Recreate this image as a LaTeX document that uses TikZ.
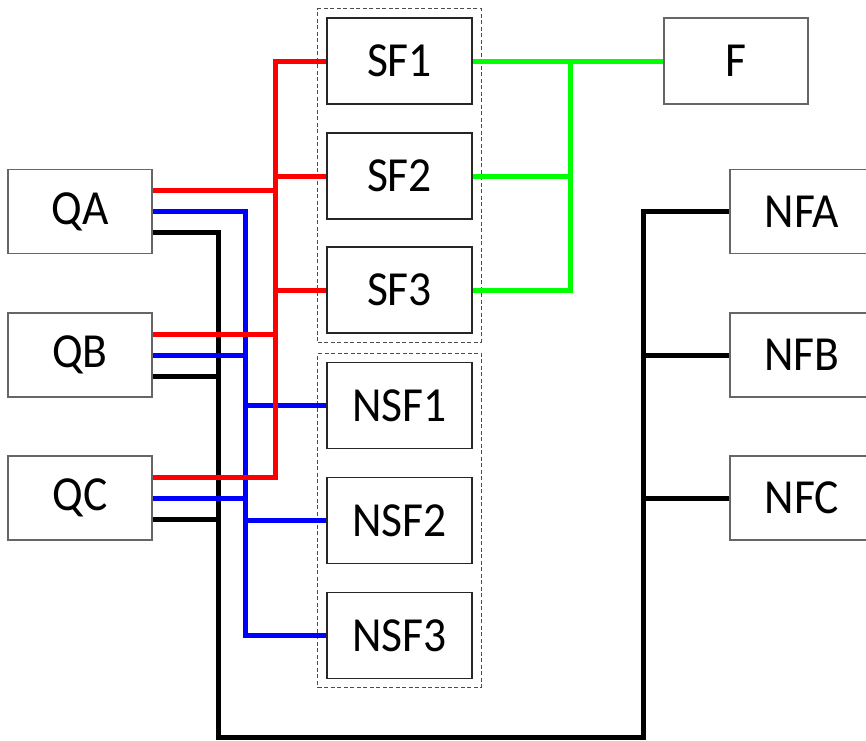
\documentclass[tikz,border=0pt]{standalone}
\usepackage{fontspec}
\setmainfont[FakeStretch=0.93]{Carlito}
\usetikzlibrary{fit}

\begin{document}
\begin{tikzpicture}[x=1pt, y=-1pt,
    box/.style={draw=black!60, line width=1.2pt, minimum width=144pt, minimum height=84pt, inner sep=0pt, font=\fontsize{49}{52}\selectfont},
    sfbox/.style={box, draw=black!85, minimum width=145pt, minimum height=86pt},
    group/.style={draw=black!70, dash pattern=on 4pt off 2.5pt, line width=0.9pt, inner sep=8.5pt},
    wire/.style={line width=5pt}]
    \useasboundingbox (0,0) rectangle (866,740);

    % Sources
    \node[box] (QA) at (80,211.5) {QA};
    \node[box] (QB) at (80,355) {QB};
    \node[box] (QC) at (80,498) {QC};

    % Filter groups
    \node[sfbox] (SF1) at (399.5,61) {SF1};
    \node[sfbox] (SF2) at (399.5,176) {SF2};
    \node[sfbox] (SF3) at (399.5,290) {SF3};
    \node[sfbox] (NSF1) at (399.5,405.5) {NSF1};
    \node[sfbox] (NSF2) at (399.5,520.5) {NSF2};
    \node[sfbox] (NSF3) at (399.5,635.5) {NSF3};
    \node[group, fit=(SF1)(SF3)] (sfgroup) {};
    \node[group, fit=(NSF1)(NSF3)] (nsfgroup) {};

    % Sinks
    \node[box, minimum height=86pt] (F) at (736,61) {F};
    \node[box] (NFA) at (802,211.5) {NFA};
    \node[box] (NFB) at (802,355) {NFB};
    \node[box] (NFC) at (802,498) {NFC};

    % Bus positions
    \coordinate (rbus) at (275,0);
    \coordinate (bbus) at (245,0);
    \coordinate (gbus) at (570,0);
    \coordinate (kbus) at (218,737);
    \coordinate (kend) at (643,737);

    % Ports on the sources
    \foreach \q in {QA,QB,QC} {
        \coordinate (\q-r) at ([yshift=21pt]\q.east);
        \coordinate (\q-b) at ([yshift=0pt]\q.east);
        \coordinate (\q-k) at ([yshift=-21pt]\q.east);
    }

    % Black lines
    \draw[wire] (QA-k) -| (kbus) -- (kend) |- (NFA.west);
    \foreach \q in {QB,QC}
        \draw[wire] (\q-k) -- (\q-k -| kbus);
    \foreach \n in {NFB,NFC}
        \draw[wire] (\n.west -| kend) -- (\n.west);

    % Blue lines
    \draw[wire, blue] (QA-b) -| (NSF3.west -| bbus) -- (NSF3.west);
    \foreach \q in {QB,QC}
        \draw[wire, blue] (\q-b) -- (\q-b -| bbus);
    \foreach \n in {NSF1,NSF2}
        \draw[wire, blue] (\n.west -| bbus) -- (\n.west);

    % Red lines
    \draw[wire, red] (QC-r) -| (SF1.west -| rbus) -- (SF1.west);
    \foreach \q in {QA,QB}
        \draw[wire, red] (\q-r) -- (\q-r -| rbus);
    \foreach \n in {SF2,SF3}
        \draw[wire, red] (\n.west -| rbus) -- (\n.west);

    % Green lines
    \draw[wire, green] (SF1.east) -- (F.west);
    \draw[wire, green] (SF3.east) -| (SF1.east -| gbus);
    \draw[wire, green] (SF2.east) -- (SF2.east -| gbus);
\end{tikzpicture}
\end{document}
